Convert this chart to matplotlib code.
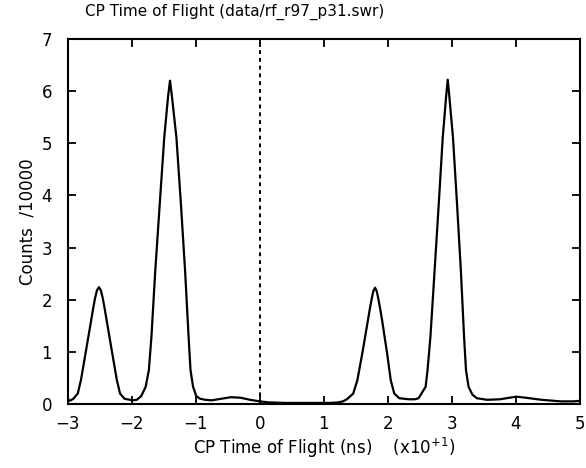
import matplotlib
matplotlib.use("Agg")
import matplotlib.pyplot as plt

# valores (tiempo en unidades de 10 ns, cuentas /10000)
tiempo = [-3.00, -2.98, -2.95, -2.91, -2.84, -2.79, -2.72, -2.63, -2.60, -2.57,
          -2.54, -2.51, -2.48, -2.45, -2.42, -2.39, -2.30, -2.23, -2.18, -2.11,
          -1.98, -1.92, -1.85, -1.78, -1.73, -1.69, -1.63, -1.56, -1.49, -1.43,
          -1.40, -1.37, -1.30, -1.23, -1.165, -1.11, -1.08, -1.04, -0.99, -0.93,
          -0.85, -0.75, -0.60, -0.45, -0.30, -0.15, 0.00, 0.15, 0.40, 0.80,
          1.10, 1.22, 1.30, 1.36, 1.46, 1.525, 1.60, 1.69, 1.72, 1.75,
          1.775, 1.80, 1.825, 1.85, 1.88, 1.91, 1.99, 2.045, 2.10, 2.18,
          2.33, 2.42, 2.48, 2.59, 2.62, 2.665, 2.73, 2.795, 2.857, 2.91,
          2.935, 2.96, 3.017, 3.08, 3.14, 3.19, 3.22, 3.26, 3.32, 3.39,
          3.55, 3.75, 3.90, 4.01, 4.15, 4.40, 4.70, 4.90, 5.00]
cuentas = [0.15, 0.06, 0.07, 0.10, 0.20, 0.46, 0.96, 1.61, 1.83, 2.03,
           2.18, 2.24, 2.18, 2.03, 1.83, 1.61, 0.96, 0.46, 0.20, 0.10,
           0.07, 0.08, 0.15, 0.33, 0.65, 1.29, 2.56, 3.84, 5.11, 5.90,
           6.20, 5.90, 5.11, 3.84, 2.56, 1.29, 0.65, 0.33, 0.15, 0.10,
           0.08, 0.07, 0.10, 0.13, 0.12, 0.08, 0.05, 0.03, 0.02, 0.02,
           0.02, 0.03, 0.05, 0.09, 0.20, 0.46, 0.96, 1.61, 1.83, 2.03,
           2.17, 2.23, 2.17, 2.03, 1.83, 1.61, 0.96, 0.46, 0.20, 0.11,
           0.09, 0.09, 0.11, 0.33, 0.65, 1.29, 2.56, 3.84, 5.11, 5.90,
           6.22, 5.90, 5.11, 3.84, 2.56, 1.29, 0.65, 0.33, 0.18, 0.11,
           0.08, 0.09, 0.12, 0.14, 0.12, 0.08, 0.05, 0.05, 0.06]

xticks = [-3, -2, -1, 0, 1, 2, 3, 4, 5]
yticks = [0, 1, 2, 3, 4, 5, 6, 7]

fig = plt.figure(figsize=(5.86, 4.68), dpi=100)
ax = fig.add_axes([0.1152, 0.1368, 0.8746, 0.7799])

ax.plot(tiempo, cuentas, color="black", lw=1.6)
ax.axvline(0, color="black", lw=1.4, ls=(0, (2, 2)))

ax.set_xlim(-3, 5)
ax.set_ylim(0, 7)
ax.set_xticks(xticks)
ax.set_yticks(yticks)
ax.tick_params(direction="in", length=6, width=1.3, top=True, right=True,
               labelsize=12)
ax.tick_params(axis="y", pad=11)
ax.tick_params(axis="x", pad=8)
for s in ax.spines.values():
    s.set_linewidth(1.5)

ax.set_xlabel("CP Time of Flight (ns)    (x10$^{+1}$)", fontsize=12, labelpad=2)
ax.set_ylabel("Counts  /10000", fontsize=12, labelpad=4)
fig.text(0.40, 0.975, "CP Time of Flight (data/rf_r97_p31.swr)",
         ha="center", va="center", fontsize=11)

plt.savefig("out.png", dpi=100)
